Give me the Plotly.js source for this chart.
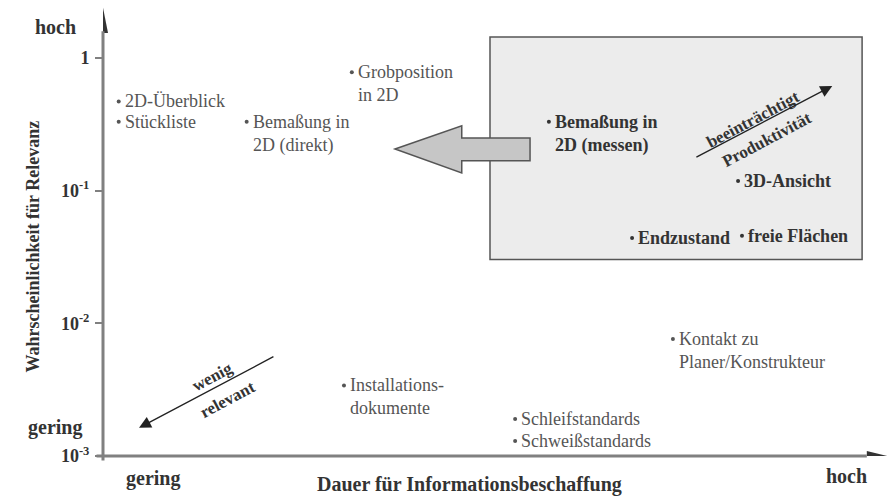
<!DOCTYPE html>
<html>
<head>
<meta charset="utf-8">
<script src="https://cdn.plot.ly/plotly-3.0.1.min.js"></script>
<style>
  body { margin: 0; background: #fff; }
  #chart { width: 892px; height: 496px; }
</style>
</head>
<body>
<div id="chart"></div>
<script>
// Informationsarten: Dauer (0..100, relativ) vs. Wahrscheinlichkeit für Relevanz
const labels = [
    "2D-Überblick", "Stückliste", "Bemaßung in<br>2D (direkt)", "Grobposition<br>in 2D",
    "Bemaßung in<br>2D (messen)", "3D-Ansicht", "Endzustand", "freie Flächen",
    "Kontakt zu<br>Planer/Konstrukteur", "Installations-<br>dokumente",
    "Schleifstandards", "Schweißstandards"
]
const duration = [2.0, 2.0, 18.3, 31.7, 56.8, 80.9, 67.4, 81.4, 72.6, 30.7, 52.5, 52.5]
const probability = [0.47, 0.33, 0.33, 0.78, 0.33, 0.118, 0.044, 0.0456, 0.0076, 0.0034, 0.0019, 0.0013]
const critical = [false, false, false, false, true, true, true, true, false, false, false, false]

const tickVals = [-3, -2, -1, 0]
const tickText = ["10<sup>-3</sup>", "10<sup>-2</sup>", "10<sup>-1</sup>", "1"]

const serif = "Liberation Serif, DejaVu Serif, serif"
const axisGray = "#808080"

const logP = probability.map(p => Math.log10(p))

const annotations = labels.map((t, i) => ({
    x: duration[i], y: logP[i], xref: "x", yref: "y",
    text: critical[i] ? `<b>${t}</b>` : t,
    showarrow: false, xanchor: "left", yanchor: "top", align: "left",
    xshift: 4, yshift: 12,
    font: {family: serif, size: 18, color: critical[i] ? "#333" : "#555"}
}))

// Beschriftungen ausserhalb der Achsen (paper) und im Diagramm (Achsen)
const word = (text, x, y, size, angle, ref) => ({
    x, y, xref: ref || "paper", yref: ref ? "y" : "paper", text: `<b>${text}</b>`,
    xanchor: "center", yanchor: "middle",
    showarrow: false, textangle: angle || 0, font: {family: serif, size, color: "#333"}
})

annotations.push(
    word("hoch", -0.061, 0.953, 20),
    word("gering", -0.061, 0.064, 20),
    word("gering", 0.064, -0.049, 20),
    word("hoch", 0.9465, -0.044, 20),
    word("Dauer für Informationsbeschaffung", 0.4675, -0.064, 20),
    word("Wahrscheinlichkeit für Relevanz", -0.089, 0.466, 18, -90),
    word("wenig", 14.0, -2.404, 17, -28, "x"),
    word("relevant", 15.9, -2.577, 17, -28, "x"),
    word("beeinträchtigt", 82.8, -0.467, 17, -28, "x"),
    word("Produktivität", 84.6, -0.618, 17, -28, "x")
)

// Achsenlinien und kleine Pfeile
const arrow = (x, y, ax, ay, head, size, width, color) => ({
    x, y, ax, ay, xref: "x", yref: "y", axref: "x", ayref: "y", text: "",
    showarrow: true, arrowhead: head, arrowsize: size, arrowwidth: width, arrowcolor: color
})
annotations.push(
    arrow(0, 0.2, 0, -3.045, 0, 1, 3, axisGray),
    arrow(97.3, -3, -1.02, -3, 0, 1, 3, axisGray),
    arrow(4.59, -2.788, 21.9, -2.246, 2, 1.7, 1.4, "#222"),
    arrow(92.9, -0.211, 75.4, -0.754, 2, 1.7, 1.4, "#222")
)

const shapes = [
    {type: "rect", xref: "x", yref: "y", x0: 49.3, x1: 96.7, y0: -1.52, y1: 0.158,
        fillcolor: "#ececec", line: {color: "#555", width: 1.5}, layer: "below"},
    {type: "path", xref: "x", yref: "y",
        path: "M37.2,-0.686 L45.7,-0.512 L45.7,-0.603 L54.4,-0.603 L54.4,-0.776 L45.7,-0.776 L45.7,-0.867 Z",
        fillcolor: "#c6c6c6", line: {color: "#555", width: 1.5}},
    {type: "path", xref: "x", yref: "y",
        path: "M0,0.377 L0.64,0.188 L-0.64,0.188 Z", fillcolor: "#333", line: {width: 0}},
    {type: "path", xref: "x", yref: "y",
        path: "M99.9,-3 L97.3,-2.962 L97.3,-3.038 Z", fillcolor: "#333", line: {width: 0}}
]

const trace = {
    x: duration, y: logP, type: "scatter", mode: "markers",
    marker: {size: 4, color: critical.map(c => c ? "#333" : "#555")},
    hoverinfo: "skip", cliponaxis: false
}

Plotly.newPlot("chart", [trace], {
    width: 892,
    height: 496,
    margin: {l: 103, r: 4, t: 6, b: 40},
    paper_bgcolor: "#fff",
    plot_bgcolor: "#fff",
    showlegend: false,
    xaxis: {range: [0, 100], showgrid: false, zeroline: false, showline: false,
        showticklabels: false, ticks: ""},
    yaxis: {range: [-3, 0.391], showgrid: false, zeroline: false, showline: false,
        tickvals: tickVals, ticktext: tickText, ticks: "outside", ticklen: 7,
        tickwidth: 2, tickcolor: axisGray, ticklabelstandoff: 2,
        tickfont: {family: serif, size: 18, color: "#333", weight: "bold"}},
    shapes,
    annotations
}, {staticPlot: true});
</script>
</body>
</html>
